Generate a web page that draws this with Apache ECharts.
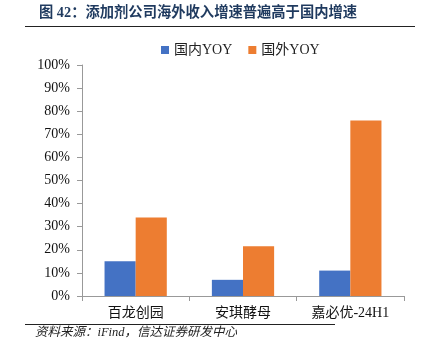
<!DOCTYPE html>
<html><head><meta charset="utf-8">
<script src="https://cdn.jsdelivr.net/npm/echarts@6/dist/echarts.min.js"></script>
<style>html,body{margin:0;padding:0;background:#fff}#c{width:431px;height:356px}</style>
</head><body><div id="c"></div>
<script>
const categories = ['百龙创园', '安琪酵母', '嘉必优-24H1'];
const domesticYoy = [15, 7, 11];
const overseasYoy = [34, 21.5, 76];
const seriesNames = ['国内YOY', '国外YOY'];
const titleText = '图 42：添加剂公司海外收入增速普遍高于国内增速';
const sourceText = '资料来源：iFind，信达证券研发中心';

const FONT = '"Liberation Serif", "Noto Sans CJK SC", serif';
const chart = echarts.init(document.getElementById('c'));
chart.setOption({
  animation: false,
  title: {
    text: titleText, left: 34, top: 1,
    textStyle: {fontFamily: FONT, fontSize: 14.3, fontWeight: 'bold', color: '#1f3a5f'}
  },
  legend: {
    data: seriesNames, top: 38, left: 156, itemWidth: 8, itemHeight: 8, itemGap: 16,
    icon: 'rect',
    textStyle: {fontFamily: FONT, fontSize: 14, color: '#222'}
  },
  grid: {left: 82, right: 27, top: 65, bottom: 60},
  xAxis: {
    type: 'category', data: categories,
    axisLine: {lineStyle: {color: '#999'}},
    axisTick: {show: true, alignWithLabel: false, lineStyle: {color: '#999'}},
    axisLabel: {fontFamily: FONT, fontSize: 14, color: '#111', margin: 10}
  },
  yAxis: {
    type: 'value', min: 0, max: 100, interval: 10,
    axisLine: {show: true, lineStyle: {color: '#999'}},
    axisTick: {show: true, lineStyle: {color: '#999'}},
    splitLine: {show: false},
    axisLabel: {formatter: '{value}%', fontFamily: FONT, fontSize: 14, color: '#111', margin: 12}
  },
  series: [
    {name: seriesNames[0], type: 'bar', data: domesticYoy, barWidth: '29%', barGap: '0%',
     itemStyle: {color: '#4472c4'}},
    {name: seriesNames[1], type: 'bar', data: overseasYoy, barWidth: '29%',
     itemStyle: {color: '#ed7d31'}}
  ],
  graphic: [
    {type: 'line', shape: {x1: 25, y1: 26.5, x2: 415, y2: 26.5}, style: {stroke: '#222', lineWidth: 1}},
    {type: 'line', shape: {x1: 25, y1: 324.5, x2: 335, y2: 324.5}, style: {stroke: '#222', lineWidth: 1}},
    {type: 'text', left: 35, top: 326, style: {text: sourceText, font: 'italic 12.5px ' + FONT, fill: '#222'}}
  ]
});
</script></body></html>
